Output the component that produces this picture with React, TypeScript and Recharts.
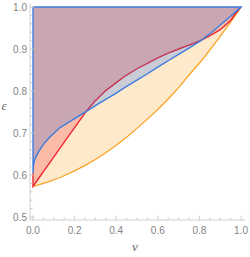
import React from 'react';
import { ComposedChart, Area, Line, XAxis, YAxis } from 'recharts';

// ---- data ----
const vGrid = [0, 0.003, 0.008, 0.016, 0.03, 0.05, 0.08, 0.13, 0.2, 0.255, 0.3, 0.35, 0.4, 0.45, 0.5, 0.55, 0.6, 0.65, 0.7, 0.75, 0.81, 0.86, 0.9, 0.95, 0.975, 1];
const orangeE = [0.573, 0.5734, 0.574, 0.575, 0.577, 0.58, 0.585, 0.594, 0.61, 0.624, 0.637, 0.653, 0.671, 0.69, 0.711, 0.733, 0.756, 0.781, 0.808, 0.838, 0.872, 0.904, 0.93, 0.964, 0.982, 1.0];
const redE = [0.573, 0.575, 0.579, 0.584, 0.594, 0.608, 0.629, 0.664, 0.713, 0.751, 0.777, 0.801, 0.82, 0.838, 0.853, 0.866, 0.879, 0.89, 0.9, 0.909, 0.921, 0.934, 0.946, 0.968, 0.985, 1.0];
const blueE = [0.605, 0.625, 0.636, 0.645, 0.658, 0.673, 0.69, 0.713, 0.734, 0.751, 0.765, 0.78, 0.795, 0.811, 0.826, 0.841, 0.857, 0.872, 0.887, 0.902, 0.921, 0.94, 0.957, 0.978, 0.989, 1.0];
const redCross = [0.255, 0.81];

const xTicks = [0, 0.05, 0.1, 0.15, 0.2, 0.25, 0.3, 0.35, 0.4, 0.45, 0.5, 0.55, 0.6, 0.65, 0.7, 0.75, 0.8, 0.85, 0.9, 0.95, 1.0];
const xMajor = [0, 0.2, 0.4, 0.6, 0.8, 1.0];
const yTicks = [0.5, 0.52, 0.54, 0.56, 0.58, 0.6, 0.62, 0.64, 0.66, 0.68, 0.7, 0.72, 0.74, 0.76, 0.78, 0.8, 0.82, 0.84, 0.86, 0.88, 0.9, 0.92, 0.94, 0.96, 0.98, 1.0];
const yMajor = [0.5, 0.6, 0.7, 0.8, 0.9, 1.0];

// ---- styles ----
const FRAME = '#c4c4c4';
const LABEL = '#838383';
const FONT = '"Liberation Sans", Arial, sans-serif';
const C_PEACH = '#FFE9CB';
const C_SALMON = '#FBBBA6';
const C_GREY = '#C9CBD6';
const C_MAUVE = '#C8A6B2';
const C_ORANGE = '#FBA326';
const C_RED = '#EE2630';
const C_RED_DARK = '#C53552';
const C_BLUE = '#3D7BDE';

const rows = vGrid.map((v, i) => {
  const o = orangeE[i];
  const r = redE[i];
  const b = blueE[i];
  return { v, peach: [o, 1], salmon: [r, 1], grey: [b, 1], mauve: [Math.max(r, b), 1] };
});

const pts = (curve: number[], from = 0, to = vGrid.length - 1) =>
  vGrid.slice(from, to + 1).map((v, k) => ({ v, e: curve[from + k] }));

const orangeLine = pts(orangeE);
const blueOutline = [{ v: 0, e: 1 }, ...pts(blueE), { v: 0, e: 1 }];
const i1 = vGrid.indexOf(redCross[0]);
const i2 = vGrid.indexOf(redCross[1]);
const redA = [{ v: 0, e: blueE[0] }, ...pts(redE, 0, i1)];
const redB = pts(redE, i1, i2);
const redC = pts(redE, i2);

const near = (a: number, b: number) => Math.abs(a - b) < 1e-6;
const isMajor = (val: number, majors: number[]) => majors.some((m) => near(m, val));

const BottomTick = (p: any) => {
  const major = isMajor(p.payload.value, xMajor);
  return (
    <g>
      <line x1={p.x} x2={p.x} y1={p.y} y2={p.y - (major ? 4.5 : 2.5)} stroke={FRAME} strokeWidth={0.8} />
      {major && (
        <text x={p.x} y={p.y + 14} textAnchor="middle" fontSize={10} fill={LABEL} fontFamily={FONT}>
          {p.payload.value.toFixed(1)}
        </text>
      )}
    </g>
  );
};
const TopTick = (p: any) => {
  const major = isMajor(p.payload.value, xMajor);
  return <line x1={p.x} x2={p.x} y1={p.y} y2={p.y + (major ? 4.5 : 2.5)} stroke={FRAME} strokeWidth={0.8} />;
};
const LeftTick = (p: any) => {
  const major = isMajor(p.payload.value, yMajor);
  return (
    <g>
      <line x1={p.x} x2={p.x + (major ? 4.5 : 2.5)} y1={p.y} y2={p.y} stroke={FRAME} strokeWidth={0.8} />
      {major && (
        <text x={p.x - 3} y={p.y + 3.6} textAnchor="end" fontSize={10} fill={LABEL} fontFamily={FONT}>
          {p.payload.value.toFixed(1)}
        </text>
      )}
    </g>
  );
};
const RightTick = (p: any) => {
  const major = isMajor(p.payload.value, yMajor);
  return <line x1={p.x} x2={p.x - (major ? 4.5 : 2.5)} y1={p.y} y2={p.y} stroke={FRAME} strokeWidth={0.8} />;
};

const X_DOMAIN: [number, number] = [-0.01442, 1.01923];
const Y_DOMAIN: [number, number] = [0.49286, 1.00833];

export default function App() {
  return (
    <div style={{ position: 'absolute', left: 0, top: 0, width: 250, height: 257, background: '#fff' }}>
      <ComposedChart width={250} height={257} data={rows} margin={{ top: 3.5, right: 5, bottom: 0, left: 0 }}>
        <XAxis
          xAxisId="b"
          dataKey="v"
          type="number"
          domain={X_DOMAIN}
          allowDataOverflow
          ticks={xTicks}
          interval={0}
          tickSize={0}
          tickMargin={0}
          tickLine={false}
          height={37}
          axisLine={{ stroke: FRAME, strokeWidth: 0.8 }}
          tick={BottomTick}
          label={(lp: any) => {
            const vb = lp.viewBox || {};
            return (
              <text x={135} y={(vb.y ?? 220) + 31} textAnchor="middle" fontSize={13} fontStyle="italic" fill="#666" fontFamily='"Liberation Serif", "Times New Roman", serif'>
                v
              </text>
            );
          }}
        />
        <XAxis
          xAxisId="t"
          orientation="top"
          dataKey="v"
          type="number"
          domain={X_DOMAIN}
          allowDataOverflow
          ticks={xTicks}
          interval={0}
          tickSize={0}
          tickMargin={0}
          tickLine={false}
          height={0}
          axisLine={{ stroke: FRAME, strokeWidth: 0.8 }}
          tick={TopTick}
        />
        <YAxis
          yAxisId="l"
          type="number"
          domain={Y_DOMAIN}
          allowDataOverflow
          ticks={yTicks}
          interval={0}
          tickSize={0}
          tickMargin={0}
          tickLine={false}
          width={30}
          axisLine={{ stroke: FRAME, strokeWidth: 0.8 }}
          tick={LeftTick}
          label={(lp: any) => (
            <text x={4} y={110} textAnchor="middle" fontSize={13} fontStyle="italic" fill="#666" fontFamily='"Liberation Serif", "Times New Roman", serif'>
              ε
            </text>
          )}
        />
        <YAxis
          yAxisId="r"
          orientation="right"
          type="number"
          domain={Y_DOMAIN}
          allowDataOverflow
          ticks={yTicks}
          interval={0}
          tickSize={0}
          tickMargin={0}
          tickLine={false}
          width={0}
          axisLine={{ stroke: FRAME, strokeWidth: 0.8 }}
          tick={RightTick}
        />
        <Area xAxisId="b" yAxisId="l" type="linear" dataKey="peach" fill={C_PEACH} fillOpacity={1} stroke="none" isAnimationActive={false} />
        <Area xAxisId="b" yAxisId="l" type="linear" dataKey="salmon" fill={C_SALMON} fillOpacity={1} stroke="none" isAnimationActive={false} />
        <Area xAxisId="b" yAxisId="l" type="linear" dataKey="grey" fill={C_GREY} fillOpacity={1} stroke="none" isAnimationActive={false} />
        <Area xAxisId="b" yAxisId="l" type="linear" dataKey="mauve" fill={C_MAUVE} fillOpacity={1} stroke="none" isAnimationActive={false} />
        <Line xAxisId="b" yAxisId="l" data={orangeLine} dataKey="e" type="linear" stroke={C_ORANGE} strokeWidth={1.3} dot={false} isAnimationActive={false} />
        <Line xAxisId="b" yAxisId="l" data={redA} dataKey="e" type="linear" stroke={C_RED} strokeWidth={1.4} dot={false} isAnimationActive={false} />
        <Line xAxisId="b" yAxisId="l" data={redB} dataKey="e" type="linear" stroke={C_RED_DARK} strokeWidth={1.4} dot={false} isAnimationActive={false} />
        <Line xAxisId="b" yAxisId="l" data={redC} dataKey="e" type="linear" stroke={C_RED} strokeWidth={1.4} dot={false} isAnimationActive={false} />
        <Line xAxisId="b" yAxisId="l" data={blueOutline} dataKey="e" type="linear" stroke={C_BLUE} strokeWidth={1.4} dot={false} isAnimationActive={false} />
      </ComposedChart>
    </div>
  );
}
